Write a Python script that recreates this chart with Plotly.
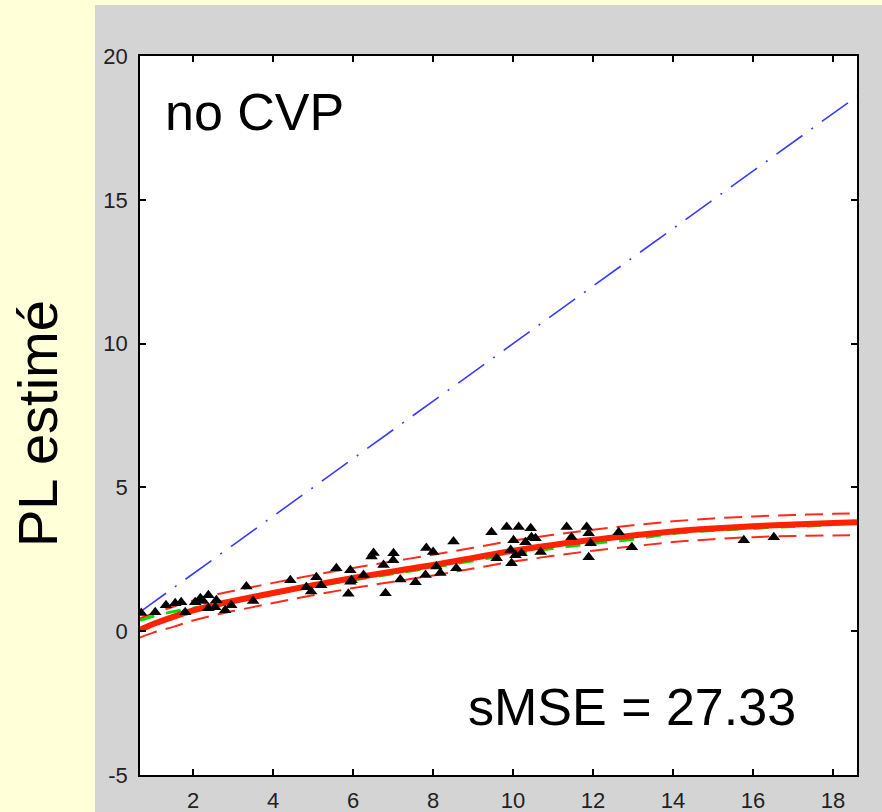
import plotly.graph_objects as go

# ---- data ----
pts_x = [0.70, 1.05, 1.32, 1.55, 1.70, 1.80, 2.05, 2.18, 2.25, 2.38, 2.38, 2.55, 2.58, 2.80, 2.95,
         3.33, 3.50, 4.43, 4.83, 4.95, 5.08, 5.20, 5.58, 5.93, 5.88, 5.93, 5.96, 6.26, 6.46, 6.51,
         6.76, 6.81, 7.01, 7.00, 7.18, 7.56, 7.81, 7.83, 8.00, 8.08, 8.18, 8.51, 8.58, 9.46, 9.59,
         9.84, 9.94, 9.96, 10.01, 10.06, 10.14, 10.21, 10.31, 10.44, 10.46, 10.56, 10.69, 11.34,
         11.46, 11.84, 11.89, 11.94, 11.89, 12.64, 12.97, 15.77, 16.52]
pts_y = [0.63, 0.66, 0.90, 0.97, 1.01, 0.66, 1.01, 1.15, 1.05, 0.80, 1.25, 0.83, 1.08, 0.73, 0.90,
         1.55, 1.05, 1.77, 1.53, 1.38, 1.88, 1.60, 2.19, 2.12, 1.30, 1.72, 1.77, 1.95, 2.60, 2.72,
         2.30, 1.32, 2.71, 2.47, 1.80, 1.70, 1.95, 2.89, 2.75, 2.25, 2.02, 3.12, 2.19, 3.44, 2.54,
         3.62, 2.82, 2.36, 3.16, 2.64, 3.62, 2.71, 3.09, 3.58, 3.27, 3.23, 2.75, 3.62,
         3.27, 3.62, 3.41, 3.06, 2.57, 3.44, 2.92, 3.16, 3.27]

fit_x = [0.67, 1, 1.5, 2, 2.5, 3, 4, 5, 6, 7, 8, 9, 10, 11, 12, 13, 14, 15, 16, 17, 18, 18.6]
fit_y = [0.05, 0.25, 0.50, 0.72, 0.90, 1.05, 1.33, 1.60, 1.85, 2.08, 2.30, 2.55, 2.80, 3.00,
         3.18, 3.33, 3.47, 3.57, 3.65, 3.71, 3.76, 3.79]
upper_y = [0.45, 0.62, 0.85, 1.07, 1.25, 1.40, 1.68, 1.95, 2.20, 2.43, 2.66, 2.90, 3.15, 3.35,
           3.53, 3.68, 3.82, 3.92, 3.99, 4.04, 4.08, 4.10]
lower_y = [-0.22, -0.05, 0.15, 0.37, 0.55, 0.70, 0.98, 1.25, 1.50, 1.72, 1.94, 2.18, 2.42, 2.62,
           2.80, 2.95, 3.10, 3.20, 3.27, 3.31, 3.33, 3.34]

true_x = [0.67, 1, 1.5, 2, 3, 4, 5, 6, 7, 8, 9, 10, 11, 12, 13, 14, 15, 16, 17, 17.7]
true_y = [0.38, 0.52, 0.68, 0.80, 1.05, 1.30, 1.55, 1.78, 2.00, 2.22, 2.45, 2.68, 2.88, 3.05,
          3.20, 3.40, 3.50, 3.58, 3.64, 3.68]

diag_x = [0.67, 18.6]
diag_y = [0.67, 18.6]

x_ticks = [2, 4, 6, 8, 10, 12, 14, 16, 18]
y_ticks = [-5, 0, 5, 10, 15, 20]
y_tick_labels = ["-5", "0", "5", "10", "15", "20"]

label_top = "no CVP"
label_bottom = "sMSE = 27.33"
y_title = "PL estimé"

fig = go.Figure()
fig.add_trace(go.Scatter(x=diag_x, y=diag_y, mode="lines",
                         line=dict(color="#3a3aff", width=1.6, dash="32px,11px,2px,11px")))
fig.add_trace(go.Scatter(x=true_x, y=true_y, mode="lines", line_shape="spline",
                         line=dict(color="#00dd00", width=3, dash="15px,12px")))
fig.add_trace(go.Scatter(x=fit_x, y=upper_y, mode="lines", line_shape="spline",
                         line=dict(color="#ff2a1a", width=2, dash="18px,9px")))
fig.add_trace(go.Scatter(x=fit_x, y=lower_y, mode="lines", line_shape="spline",
                         line=dict(color="#ff2a1a", width=2, dash="18px,9px")))
fig.add_trace(go.Scatter(x=fit_x, y=fit_y, mode="lines", line_shape="spline",
                         line=dict(color="#ff2200", width=6)))
fig.add_trace(go.Scatter(x=pts_x, y=pts_y, mode="markers",
                         marker=dict(symbol="triangle-up", size=11, color="black")))

W, H = 882, 812
L, R, T, B = 140, 25, 56, 37
pw, ph = W - L - R, H - T - B

def px_to_paper_x(px):
    return (px - L) / pw

def px_to_paper_y(py):
    return (H - B - py) / ph

fig.update_layout(
    width=W, height=H,
    margin=dict(l=L, r=R, t=T, b=B, pad=0, autoexpand=False),
    paper_bgcolor="#ffffd8",
    plot_bgcolor="white",
    showlegend=False,
    font=dict(family="Liberation Sans, Arial, sans-serif", color="#222"),
    shapes=[
        dict(type="rect", xref="paper", yref="paper", layer="below",
             x0=px_to_paper_x(95), x1=px_to_paper_x(882), y0=px_to_paper_y(812), y1=px_to_paper_y(5),
             fillcolor="#d4d4d4", line=dict(width=0)),
        dict(type="rect", xref="paper", yref="paper", layer="below",
             x0=0, x1=1, y0=0, y1=1, fillcolor="white", line=dict(width=0)),
    ],
    annotations=[
        dict(text=label_top, xref="paper", yref="paper", x=px_to_paper_x(163), y=px_to_paper_y(112),
             xanchor="left", yanchor="middle", showarrow=False,
             font=dict(size=52, color="black", family="Liberation Sans, Arial")),
        dict(text=label_bottom, xref="paper", yref="paper", x=px_to_paper_x(466), y=px_to_paper_y(707),
             xanchor="left", yanchor="middle", showarrow=False,
             font=dict(size=52, color="black", family="Liberation Sans, Arial")),
        dict(text=y_title, xref="paper", yref="paper", x=px_to_paper_x(37), y=px_to_paper_y(424),
             xanchor="center", yanchor="middle", showarrow=False, textangle=-90,
             font=dict(size=56, color="black", family="Liberation Sans, Arial")),
    ],
)
fig.update_xaxes(range=[0.67, 18.6], tickvals=x_ticks, ticks="inside", ticklen=6, tickwidth=1.5,
                 tickcolor="black", showline=True, linecolor="black", linewidth=1.5, mirror="ticks",
                 showgrid=False, zeroline=False, tickfont=dict(size=22, color="#222"),
                 ticklabelstandoff=5, automargin=False)
fig.update_yaxes(range=[-5, 20], tickvals=y_ticks, ticktext=y_tick_labels, ticks="inside",
                 ticklen=6, tickwidth=1.5,
                 tickcolor="black", showline=True, linecolor="black", linewidth=1.5, mirror="ticks",
                 showgrid=False, zeroline=False, tickfont=dict(size=22, color="#222"),
                 ticklabelstandoff=6, automargin=False)

fig.write_html("out.html")
